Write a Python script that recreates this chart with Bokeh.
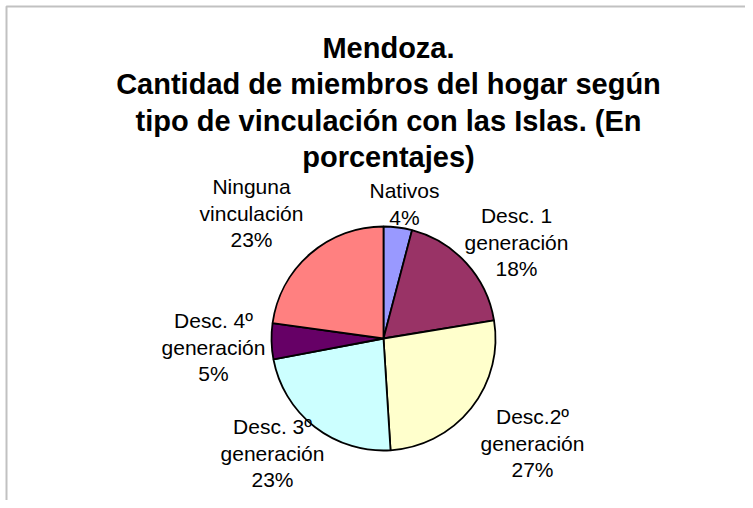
import math
from bokeh.plotting import figure
from bokeh.models import ColumnDataSource, Range1d, BoxAnnotation
from bokeh.core.properties import value
from bokeh.embed import file_html
from bokeh.resources import INLINE

# ---- data ----
categories = ["Nativos", "Desc. 1\ngeneración", "Desc.2º\ngeneración",
              "Desc. 3º\ngeneración", "Desc. 4º\ngeneración", "Ninguna\nvinculación"]
percentages = [4.1, 18.3, 26.6, 23.0, 5.2, 22.8]
colors = ["#9999FF", "#993366", "#FFFFCC", "#CCFFFF", "#660066", "#FF8080"]
title_lines = ["Mendoza.", "Cantidad de miembros del hogar según",
               "tipo de vinculación con las Islas. (En", "porcentajes)"]

# ---- layout (page pixel coordinates) ----
W, H = 745, 500
def fx(px):
    return px
def fy(py):
    return H - py

cx, cy, R = 383, 338, 112
label_anchor = [(404, 190), (516, 215), (532, 416), (272, 426), (213, 320), (251, 186)]
label_step = 26.5
title_cx, title_y0, title_step = 388, 47, 36.5

p = figure(width=W, height=H, output_backend="svg", toolbar_location=None,
           x_range=Range1d(0, W), y_range=Range1d(0, H), min_border=0)
p.axis.visible = False
p.grid.visible = False
p.outline_line_color = None
p.background_fill_color = "white"
p.border_fill_color = "white"

# wedges
total = sum(percentages)
starts, ends = [], []
cum = 0.0
for v in percentages:
    starts.append(math.pi / 2 - 2 * math.pi * cum / total)
    cum += v
    ends.append(math.pi / 2 - 2 * math.pi * cum / total)

src = ColumnDataSource(dict(x=[fx(cx)] * len(percentages), y=[fy(cy)] * len(percentages),
                            start=starts, end=ends, color=colors))
p.wedge(x="x", y="y", radius=R, radius_units="screen", start_angle="start", end_angle="end",
        direction="clock", fill_color="color", line_color="black", line_width=1.8, source=src)

# labels
lx, ly, lt = [], [], []
for cat, v, (ax, ay) in zip(categories, percentages, label_anchor):
    lines = cat.split("\n") + [f"{round(v)}%"]
    for i, t in enumerate(lines):
        lx.append(fx(ax))
        ly.append(fy(ay + i * label_step))
        lt.append(t)
p.text(x=lx, y=ly, text=lt, text_align="center", text_baseline="alphabetic",
       text_font=value("Liberation Sans"), text_font_size="21px", text_color="black")

# title
tx = [fx(title_cx)] * len(title_lines)
ty = [fy(title_y0 + i * title_step) for i in range(len(title_lines))]
p.text(x=tx, y=ty, text=title_lines, text_align="center", text_baseline="alphabetic",
       text_font=value("Liberation Sans"), text_font_size="29px", text_font_style="bold",
       text_color="black")

# chart frame (top and left edges visible)
p.add_layout(BoxAnnotation(left=6, right=5000, bottom=-5000, top=fy(6),
                           fill_alpha=0, line_color="#333333", line_width=2))

open("out.html", "w").write(file_html(p, INLINE))
